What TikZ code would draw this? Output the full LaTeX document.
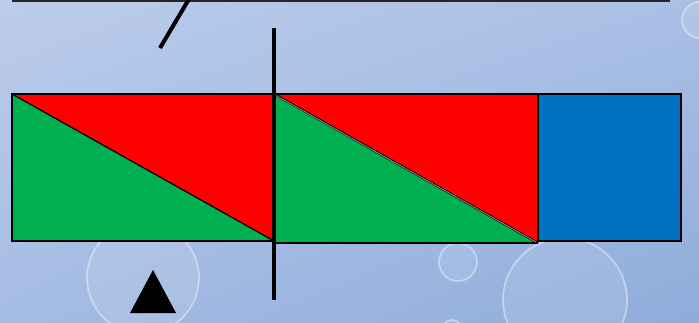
\documentclass[tikz,border=0pt]{standalone}
\usetikzlibrary{shadings}
\begin{document}
\begin{tikzpicture}[x={(1pt,0)},y={(0,-1pt)},
  outl/.style={draw=black,line width=1.4pt,line join=miter},
  bubble/.style={fill=white,fill opacity=0.10,draw=white,draw opacity=0.4,line width=1.8pt},
  thickbar/.style={line width=4.5pt,draw=black}]
\definecolor{bgA}{HTML}{BCCCEB}
\definecolor{bgB}{HTML}{8EACDB}
\definecolor{pred}{HTML}{FF0000}
\definecolor{pgreen}{HTML}{00B050}
\definecolor{pblue}{HTML}{0070C0}
\useasboundingbox (0,0) rectangle (699,323);
\shade[upper left=bgA,upper right=bgA!60!bgB,lower left=bgA!50!bgB,lower right=bgB] (0,0) rectangle (699,323);
% bubbles
\draw[bubble] (143,278) circle (56);
\draw[bubble] (458,262) circle (19);
\draw[bubble] (565,300) circle (62);
\draw[bubble] (700,20) circle (18);
\draw[bubble] (452,330) circle (10);
% top dark strip
\fill[black!85] (12,0) rectangle (670,2);
% slanted line
\draw[line width=4pt] (160,48) -- (189,-1);
% left block
\fill[pred] (12,94) rectangle (274,241);
\fill[pgreen] (12,94) -- (274,241) -- (12,241) -- cycle;
\draw[outl] (12,94) rectangle (274,241);
\draw[line width=1.2pt] (12,94) -- (274,241);
% middle block
\fill[pred] (274,94) rectangle (538,241);
\fill[pgreen] (274,94) -- (538,243) -- (274,243) -- cycle;
\draw[outl] (274,94) -- (538,94) -- (538,241);
\draw[outl] (274,243) -- (538,243);
\draw[line width=2.2pt] (274,94) -- (538,243);
\draw[line width=0.6pt,gray!60] (276,95.5) -- (536,242);
% blue block
\fill[pblue] (538,94) rectangle (681,241);
\draw[outl] (538,94) rectangle (681,241);
% vertical bar
\draw[thickbar] (274,28) -- (274,300);
% triangle
\fill[black] (153,270) -- (176,313) -- (130,313) -- cycle;
\end{tikzpicture}
\end{document}
